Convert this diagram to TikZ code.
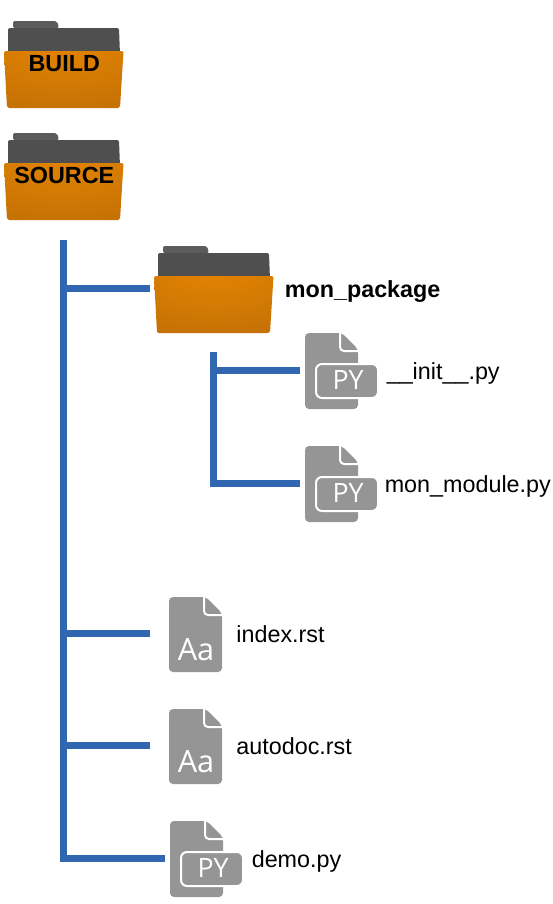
\documentclass[tikz,border=0pt]{standalone}
\usepackage{fontspec}
\setmainfont{Liberation Sans}
\newfontfamily\iconfont{Open Sans}
\usetikzlibrary{positioning}
\definecolor{treeblue}{HTML}{3166B0}
\definecolor{filegray}{HTML}{959595}
\definecolor{backgray}{HTML}{4F4F4F}
\definecolor{tabgray}{HTML}{5C5C5C}
\definecolor{glowA}{HTML}{EA8500}
\definecolor{glowB}{HTML}{D27A04}
\definecolor{glowC}{HTML}{B56606}
\definecolor{glowD}{HTML}{A05800}
\pgfdeclareradialshading{folderglow}{\pgfpoint{0bp}{40bp}}{color(0bp)=(glowA); color(30bp)=(glowB); color(70bp)=(glowC); color(100bp)=(glowD)}
\tikzset{
  iconbox/.style 2 args={anchor=north west, minimum width=#1, minimum height=#2, inner sep=0pt},
  filebody/.style={fill=filegray, rounded corners=3pt},
  foldmark/.style={draw=white, line width=1.5pt, rounded corners=3pt},
  glyph/.style={text=white, inner sep=0pt, font=\iconfont\fontsize{#1}{#1}\selectfont},
  pics/folder/.style={code={
    \fill[tabgray, rounded corners=1.5pt] (9,2) -- (53,2) -- (55,9) -- (9,9) -- cycle;
    \fill[backgray, rounded corners=1.5pt] (4,9) -- (115,9) -- (116,36) -- (4,36) -- cycle;
    \shade[shading=folderglow, rounded corners=1.5pt] (0,32) -- (119.5,32) -- (116,89) -- (3,89) -- cycle;
    \node[iconbox={90pt}{66.75pt}, font=\fontsize{17.5}{20}\selectfont\bfseries] (-box) at (0,0) {#1};
  }},
  pics/pyfile/.style={code={
    \fill[filebody] (0,2) -- (37,2) -- (53,18) -- (53,78) -- (0,78) -- cycle;
    \draw[foldmark] (35,2) -- (35,20) -- (53,20);
    \filldraw[fill=filegray, draw=white, line width=1.5pt, rounded corners=4.5pt] (11,33) rectangle (73,67);
    \node[glyph=20] (-glyph) at (43,49) {PY};
    \node[iconbox={54.75pt}{58.5pt}] (-box) at (0,0) {};
  }},
  pics/aafile/.style={code={
    \fill[filebody] (0,3) -- (37,3) -- (53,19) -- (53,78) -- (0,78) -- cycle;
    \draw[foldmark] (35,3) -- (35,21) -- (53,21);
    \node[glyph=23] (-glyph) at (27,55.5) {Aa};
    \node[iconbox={39.75pt}{58.5pt}] (-box) at (0,0) {};
  }},
  fname/.style={inner sep=0pt, text height=14pt, text depth=0.5pt, font=\fontsize{17.5}{20}\selectfont},
  wire/.style={draw=treeblue, line width=5pt, shorten >=#1},
  wire/.default=0pt
}

\begin{document}
\begin{tikzpicture}[x=0.75pt, y=-0.75pt]
  \useasboundingbox (0,0) rectangle (553,904);

  \pic (build) at (4,19) {folder=BUILD};
  \pic (source) at (4,131) {folder=SOURCE};

  \coordinate (trunktop) at (63.5,240);
  \coordinate (trunkend) at (63.5,862);
  \coordinate (subtop) at (213.5,352);
  \coordinate (subend) at (213.5,487);

  \pic (pkg) at (154,244) {folder=};
  \node[fname, font=\fontsize{17.5}{20}\selectfont\bfseries, right=7.5pt of pkg-box] (pkgname) {mon\_package};

  \pic (init) at (305,331) {pyfile};
  \pic (module) at (305,444) {pyfile};
  \node[fname, right=6pt of init-box] (initname) {\_\_init\_\_.py};
  \node[fname, right=4.5pt of module-box] (modulename) {mon\_module.py};

  \pic (index) at (169,594) {aafile};
  \pic (autodoc) at (169,706) {aafile};
  \pic (demo) at (170,819) {pyfile};
  \node[fname, right=10.25pt of index-box] (indexname) {index.rst};
  \node[fname, right=10.25pt of autodoc-box] (autodocname) {autodoc.rst};
  \node[fname, right=6pt of demo-box] (demoname) {demo.py};

  \draw[wire] (trunktop) -- (trunkend);
  \draw[wire=3pt] (pkg-box -| trunktop) -- (pkg-box.west);
  \draw[wire=14.25pt] (index-box -| trunktop) -- (index-box.west);
  \draw[wire=14.25pt] (autodoc-box -| trunktop) -- (autodoc-box.west);
  \draw[wire=3.75pt] (demo-box -| trunktop) -- (demo-box.west);

  \draw[wire] (subtop) -- (subend);
  \draw[wire=3.75pt] (init-box -| subtop) -- (init-box.west);
  \draw[wire=3.75pt] (module-box -| subtop) -- (module-box.west);
\end{tikzpicture}
\end{document}
